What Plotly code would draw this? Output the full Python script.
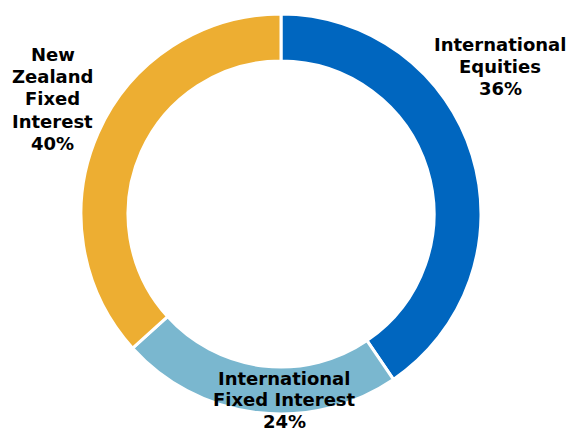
import plotly.graph_objects as go

categories = ["International Equities", "International Fixed Interest", "New Zealand Fixed Interest"]
# arc sizes as drawn in the picture (share of the ring, %)
arc_values = [40.5, 22.8, 36.7]
# percentages printed in the labels
label_pct = [36, 24, 40]
label_lines = [
    ["International", "Equities"],
    ["International", "Fixed Interest"],
    ["New", "Zealand", "Fixed", "Interest"],
]
colors = ["#0066BF", "#7AB7CF", "#EDAE32"]

W, H = 571, 430
fig = go.Figure(go.Pie(
    labels=categories, values=arc_values, sort=False, direction="clockwise", rotation=0,
    hole=0.765, marker=dict(colors=colors, line=dict(color="white", width=3)),
    textinfo="none", hoverinfo="label", showlegend=False,
    domain=dict(x=[81/W, 481/W], y=[1-414/H, 1-14/H]),
))

# label anchor: center x, first line center y, line step (px)
anchors = [(500, 44, 22.3), (284, 378, 21.8), (53, 54.5, 22.2)]
for lines, v, (cx, y0, step) in zip(label_lines, label_pct, anchors):
    for i, line in enumerate(lines + [f"{v}%"]):
        fig.add_annotation(x=cx/W, y=1-(y0 + i*step)/H, xref="paper", yref="paper",
                           xanchor="center", yanchor="middle", text=line, showarrow=False,
                           borderpad=0,
                           font=dict(family="DejaVu Sans", size=18, color="black", weight="bold"))

fig.update_layout(width=W, height=H, margin=dict(l=0, r=0, t=0, b=0),
                  paper_bgcolor="white", plot_bgcolor="white")
fig.write_html("out.html", config={"displayModeBar": False},
               post_script="document.body.style.margin='0px';")
